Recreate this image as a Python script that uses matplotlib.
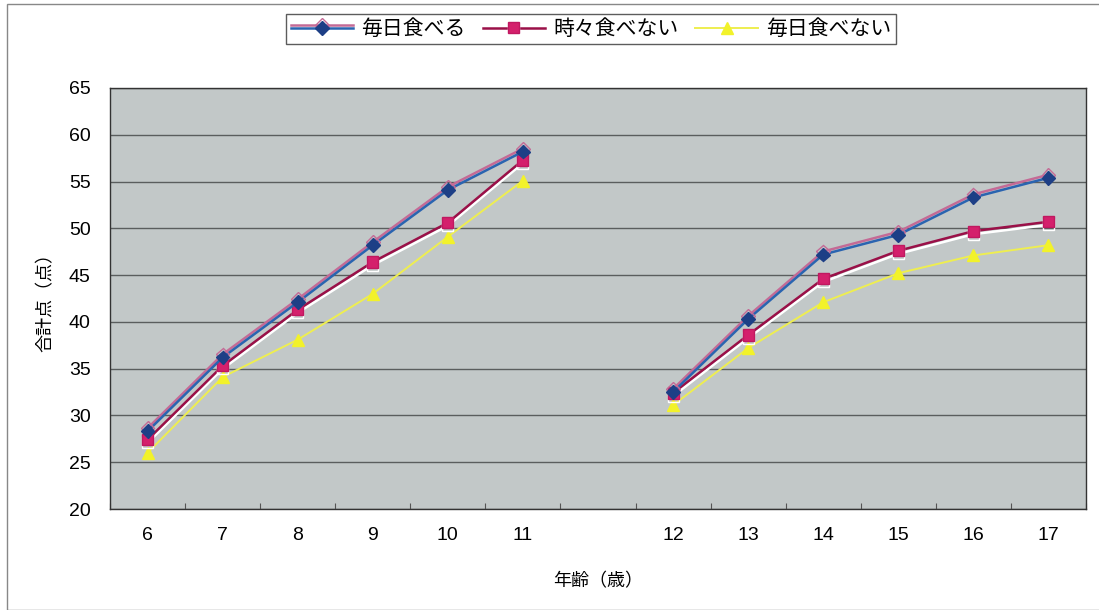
import numpy as np
import matplotlib
matplotlib.use("Agg")
import matplotlib.pyplot as plt
import matplotlib.patheffects as pe
from matplotlib.patches import Rectangle

plt.rcParams['font.family'] = ['Liberation Sans', 'Noto Sans CJK JP', 'DejaVu Sans']

categories = ['6', '7', '8', '9', '10', '11', '', '12', '13', '14', '15', '16', '17']
every_day = [28.3, 36.2, 42.1, 48.2, 54.1, 58.2, np.nan, 32.5, 40.3, 47.2, 49.3, 53.3, 55.4]
sometimes_not = [27.4, 35.3, 41.3, 46.4, 50.6, 57.3, np.nan, 32.4, 38.6, 44.6, 47.6, 49.7, 50.7]
never_daily = [26.0, 34.1, 38.1, 43.0, 49.1, 55.1, np.nan, 31.1, 37.2, 42.1, 45.2, 47.1, 48.2]
series_names = ['毎日食べる', '時々食べない', '毎日食べない']
y_ticks = [20, 25, 30, 35, 40, 45, 50, 55, 60, 65]

fig = plt.figure(figsize=(10.99, 6.10), dpi=100)
ax = fig.add_axes([110/1099, 1 - 509/610, (1086-110)/1099, (509-88)/610])

x = np.arange(len(categories))

l1, = ax.plot(x, every_day, color='#2a64b0', lw=1.8, marker='D', ms=7,
              mfc='#1d3f86', mec='#1d3f86', label=series_names[0], zorder=5,
              path_effects=[pe.SimpleLineShadow(offset=(0, 2.2), shadow_color='#c46a96', alpha=1.0),
                            pe.Normal()])
l2, = ax.plot(x, sometimes_not, color='#9a1048', lw=1.8, marker='s', ms=8,
              mfc='#d4206c', mec='#c01860', label=series_names[1], zorder=4,
              path_effects=[pe.SimpleLineShadow(offset=(0, -2.2), shadow_color='#ffffff', alpha=1.0),
                            pe.Normal()])
l3, = ax.plot(x, never_daily, color='#eeee50', lw=1.4, marker='^', ms=9,
              mfc='#f2f22a', mec='#f2f22a', label=series_names[2], zorder=3)

ax.set_facecolor('#c2c8c8')
ax.set_xlim(-0.5, len(categories) - 0.5)
ax.set_ylim(20, 65)
ax.set_yticks(y_ticks)
ax.yaxis.grid(True, color='#5a5e5e', lw=1.0)
ax.set_axisbelow(True)

ax.set_xticks(np.arange(len(categories) + 1) - 0.5)
ax.set_xticklabels([])
ax.tick_params(axis='x', which='major', direction='in', length=4, color='#555555')
ax.set_xticks(x, minor=True)
ax.set_xticklabels(categories, minor=True)
ax.tick_params(axis='x', which='minor', length=0, pad=13, labelsize=14)
ax.tick_params(axis='y', length=0, pad=14, labelsize=14)

for s in ax.spines.values():
    s.set_color('#333333')
    s.set_linewidth(1.0)

ax.set_xlabel('年齢（歳）', fontsize=13, family=['Noto Sans CJK JP'], labelpad=20)
ax.set_ylabel('合計点（点）', fontsize=13, family=['Noto Sans CJK JP'], labelpad=10)

leg = fig.legend(handles=[l1, l2, l3], loc='center', bbox_to_anchor=(591/1099, 1 - 29/610),
                 ncol=3, frameon=True, fancybox=False, edgecolor='#333333',
                 prop={'family': 'Noto Sans CJK JP', 'size': 15},
                 handlelength=3.0, handletextpad=0.4, columnspacing=0.8,
                 borderpad=0.2)
leg.get_frame().set_linewidth(1.0)

fig.add_artist(Rectangle((7/1099, 0.0), 1.2, 1 - 4/610, transform=fig.transFigure,
                         fill=False, edgecolor='#888888', lw=1.0))

fig.savefig('out.png', dpi=100)
